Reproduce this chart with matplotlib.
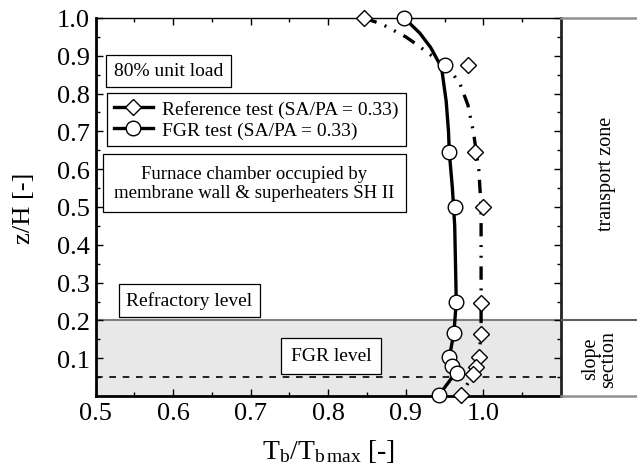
import matplotlib
matplotlib.use("Agg")
import matplotlib.pyplot as plt
from matplotlib.lines import Line2D
import numpy as np

plt.rcParams['font.family'] = ['Liberation Serif', 'DejaVu Serif']
plt.rcParams['mathtext.fontset'] = 'custom'
plt.rcParams['mathtext.rm'] = 'Liberation Serif'
plt.rcParams['mathtext.it'] = 'Liberation Serif:italic'

# ---- measured points ----
ref_x = [0.846, 0.980, 0.989, 1.000, 0.997, 0.997, 0.994, 0.990, 0.987, 0.971]
ref_z = [1.000, 0.876, 0.645, 0.500, 0.246, 0.164, 0.102, 0.078, 0.058, 0.003]
fgr_x = [0.898, 0.951, 0.956, 0.963, 0.965, 0.962, 0.956, 0.960, 0.966, 0.943]
fgr_z = [1.000, 0.876, 0.645, 0.499, 0.249, 0.167, 0.102, 0.080, 0.061, 0.003]

# ---- fitted trend curves ----
ref_fit_x = [0.846, 0.869, 0.900, 0.914, 0.940, 0.959, 0.970, 0.980, 0.987, 0.994,
             0.997, 0.997, 0.997, 0.997, 0.994, 0.990, 0.987, 0.971]
ref_fit_z = [1.000, 0.984, 0.950, 0.930, 0.890, 0.857, 0.825, 0.770, 0.700, 0.600,
             0.500, 0.400, 0.250, 0.165, 0.100, 0.078, 0.058, 0.003]
fgr_fit_x = [0.898, 0.918, 0.932, 0.946, 0.952, 0.955, 0.956, 0.960, 0.963, 0.964,
             0.965, 0.962, 0.956, 0.959, 0.964, 0.943]
fgr_fit_z = [1.000, 0.960, 0.922, 0.869, 0.780, 0.700, 0.645, 0.550, 0.450, 0.350,
             0.250, 0.167, 0.102, 0.080, 0.061, 0.003]

xticks = [0.5, 0.6, 0.7, 0.8, 0.9, 1.0]
yticks = [0.1, 0.2, 0.3, 0.4, 0.5, 0.6, 0.7, 0.8, 0.9, 1.0]

W, H = 637, 477
fig = plt.figure(figsize=(W / 100, H / 100), dpi=100)

L, R, B, T = 95.5, 561, 397, 19
ax = fig.add_axes([L / W, 1 - B / H, (R - L) / W, (B - T) / H])
ax2 = fig.add_axes([R / W, 1 - B / H, (640 - R) / W, (B - T) / H])

ax.set_xlim(0.5, 1.1)
ax.set_ylim(0.0, 1.0)

ax.axhspan(0.0, 0.2, color='#e8e8e8', zorder=0, lw=0)
ax.axhline(0.2, color='#808080', lw=1.5, zorder=1)
ax.axhline(0.05, color='black', lw=1.2, ls=(0, (4, 4)), zorder=1)

ax.plot(fgr_fit_x, fgr_fit_z, color='black', lw=2.4, zorder=3, solid_capstyle='butt')
ax.plot(ref_fit_x, ref_fit_z, color='black', lw=2.4, zorder=3,
        ls=(0, (4, 2.6, 0.6, 2.6, 0.6, 2.6)))

ax.plot(ref_x, ref_z, ls='none', marker='D', ms=8, mfc='white', mec='black',
        mew=1.0, zorder=4, clip_on=False)
ax.plot(fgr_x, fgr_z, ls='none', marker='o', ms=10.5, mfc='white', mec='black',
        mew=1.0, zorder=5, clip_on=False)

ax.set_xticks(xticks)
ax.set_xticklabels([f'{v:.1f}' for v in xticks])
ax.set_yticks(yticks)
ax.set_yticklabels([f'{v:.1f}' for v in yticks])
ax.set_xticks(np.arange(0.55, 1.1, 0.1), minor=True)
ax.set_yticks(np.arange(0.05, 1.0, 0.1), minor=True)
ax.tick_params(which='both', direction='in', top=True, right=True, labelsize=19,
               width=1.0, pad=4)
ax.tick_params(which='major', length=5)
ax.tick_params(which='minor', length=3)
for s in ['left', 'bottom']:
    ax.spines[s].set_linewidth(2.0)
ax.spines['right'].set_linewidth(2.0)
ax.spines['right'].set_color('#222222')
ax.spines['top'].set_linewidth(1.0)

ax.set_ylabel('z/H [-]', fontsize=19, labelpad=16)
ax.set_xlabel(r'T$_\mathrm{b}$/T$_\mathrm{b\,max}$ [-]', fontsize=20, labelpad=10)

ax.text(0.594, 0.860, '80% unit load', fontsize=14, ha='center', va='center',
        bbox=dict(boxstyle='square,pad=0.4', fc='white', ec='black', lw=0.9), zorder=6)
ax.text(0.705, 0.563, 'Furnace chamber occupied by\nmembrane wall & superheaters SH II',
        fontsize=13.5, ha='center', va='center', bbox=dict(boxstyle='square,pad=0.6',
        fc='white', ec='black', lw=0.9), zorder=6, linespacing=1.15)
ax.text(0.621, 0.253, 'Refractory level', fontsize=14, ha='center', va='center',
        bbox=dict(boxstyle='square,pad=0.4', fc='white', ec='black', lw=0.9), zorder=6)
ax.text(0.8035, 0.106, 'FGR level', fontsize=14, ha='center', va='center',
        bbox=dict(boxstyle='square,pad=0.5', fc='white', ec='black', lw=0.9), zorder=6)

handles = [
    Line2D([], [], color='black', lw=2.4, marker='D', ms=8, mfc='white', mec='black'),
    Line2D([], [], color='black', lw=2.4, marker='o', ms=10.5, mfc='white', mec='black'),
]
leg = ax.legend(handles, ['Reference test (SA/PA = 0.33)', 'FGR test (SA/PA = 0.33)'],
                loc='upper left', bbox_to_anchor=(0.0247, 0.8016), fontsize=14,
                frameon=True, fancybox=False, edgecolor='black', framealpha=1,
                borderaxespad=0, handlelength=2.0, handletextpad=0.5,
                labelspacing=0.2, borderpad=0.35)
leg.get_frame().set_linewidth(0.9)
leg.set_zorder(6)

# right panel
ax2.set_xlim(0, 1)
ax2.set_ylim(0, 1)
ax2.set_xticks([])
ax2.set_yticks([])
ax2.axhline(0.2, color='#606060', lw=1.5)
ax2.spines['left'].set_visible(False)
ax2.spines['right'].set_visible(False)
ax2.spines['top'].set_color('#909090')
ax2.spines['top'].set_linewidth(1.8)
ax2.spines['bottom'].set_color('#909090')
ax2.spines['bottom'].set_linewidth(1.8)
ax2.patch.set_alpha(0)
ax2.text(0.57, 0.59, 'transport zone', rotation=90, fontsize=14.5,
         ha='center', va='center')
ax2.text(0.49, 0.1, 'slope\nsection', rotation=90, fontsize=14.5,
         ha='center', va='center', linespacing=0.9)

fig.savefig('out.png', dpi=100)
